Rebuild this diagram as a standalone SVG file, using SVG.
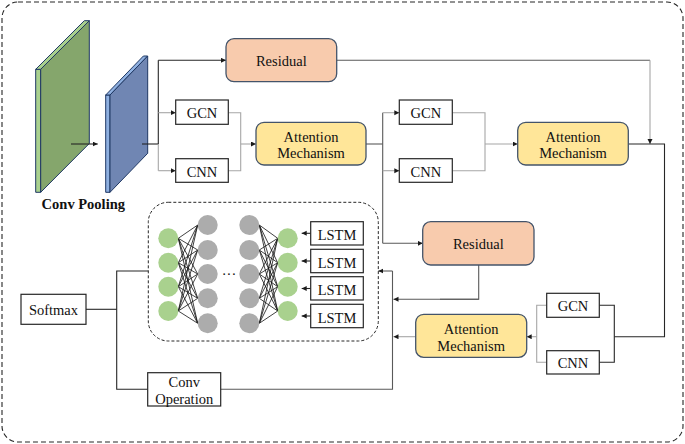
<svg xmlns="http://www.w3.org/2000/svg" width="685" height="444" viewBox="0 0 685 444">
<defs>
<marker id="arr" markerUnits="userSpaceOnUse" markerWidth="6" markerHeight="6" refX="5" refY="2.5" orient="auto">
<path d="M0,0 L5,2.5 L0,5 z" fill="#1a1a1a"/>
</marker>
</defs>
<style>
text{font-family:"Liberation Serif","Times New Roman",serif;font-size:14.5px;fill:#111;text-anchor:middle}
.bold{font-weight:bold}
.plain{fill:#fff;stroke:#262626;stroke-width:1.2}
.res{fill:#f8cbad;stroke:#44546a;stroke-width:1.3}
.att{fill:#ffe699;stroke:#44546a;stroke-width:1.3}
.dk{fill:none;stroke:#262626;stroke-width:1.1}
.md{fill:none;stroke:#595959;stroke-width:1.1}
.lt{fill:none;stroke:#a6a6a6;stroke-width:1.1}
.ar{marker-end:url(#arr)}
.gc{fill:#a9d18e}
.gy{fill:#acacac}
.nn{stroke:#111;stroke-width:0.8}
.edge{stroke:#1f3864;stroke-width:1}
</style>
<rect x="2" y="2" width="681" height="440" rx="16" fill="none" stroke="#262626" stroke-width="1.1" stroke-dasharray="5,3"/>

<g id="conv-pooling">
<polygon class="edge" points="35.7,69.3 40.7,69.3 40.7,192.3 35.7,192.3" fill="#a9d18e"/>
<polygon class="edge" points="35.7,69.3 40.7,69.3 89.3,20.7 84.3,20.7" fill="#a9d18e"/>
<polygon class="edge" points="40.7,69.3 89.3,20.7 89.3,143.5 40.7,192.3" fill="#85a66c"/>
<polygon class="edge" points="105.7,95 110,95 110,192.3 105.7,192.3" fill="#8fb0e0"/>
<polygon class="edge" points="105.7,95 110,95 147.7,56 143.4,56" fill="#8fb0e0"/>
<polygon class="edge" points="110,95 147.7,56 147.7,153.3 110,192.3" fill="#7086b3"/>
<text class="bold" x="83.3" y="208.5">Conv Pooling</text>
</g>

<g id="connectors">
<line class="dk ar" x1="71" y1="144" x2="97.7" y2="144"/>
<polyline class="dk" points="142,144 158.3,144"/>
<polyline class="dk" points="158.3,144 158.3,60.3"/>
<polyline class="lt" points="158.3,144 158.3,170.7"/>
<line class="dk ar" x1="158.3" y1="60.3" x2="226" y2="60.3"/>
<line class="lt ar" x1="158.3" y1="112.7" x2="175.7" y2="112.7"/>
<line class="lt ar" x1="158.3" y1="170.7" x2="175.7" y2="170.7"/>
<polyline class="lt" points="228.3,112.7 240.7,112.7 240.7,170.7 228.3,170.7"/>
<line class="lt ar" x1="240.7" y1="144" x2="256" y2="144"/>
<polyline class="md" points="366,144 382.7,144"/>
<polyline class="md" points="382.7,112.7 382.7,243.3"/>
<line class="lt ar" x1="382.7" y1="112.7" x2="399.3" y2="112.7"/>
<line class="lt ar" x1="382.7" y1="170.7" x2="399.3" y2="170.7"/>
<line class="md ar" x1="382.7" y1="243.3" x2="422.7" y2="243.3"/>
<polyline class="lt" points="452.3,112.7 485,112.7 485,170.7 452.3,170.7"/>
<line class="lt ar" x1="485" y1="144" x2="517.7" y2="144"/>
<polyline class="md" points="336.7,60.3 650,60.3"/>
<line class="lt ar" x1="650" y1="60.3" x2="650" y2="144"/>
<polyline class="dk" points="628.3,144 664.5,144 664.5,336.7 614.3,336.7"/>
<polyline class="dk" points="599.3,305.3 614.3,305.3 614.3,362.3 599.3,362.3"/>
<polyline class="lt" points="546.7,305.3 536.7,305.3 536.7,362.3 546.7,362.3"/>
<line class="lt ar" x1="536.7" y1="336.7" x2="526.7" y2="336.7"/>
<line class="lt ar" x1="415.7" y1="336.7" x2="393.5" y2="336.7"/>
<polyline class="md" points="478.7,265 478.7,299.3 440,299.3"/>
<line class="md ar" x1="478.7" y1="299.3" x2="393.5" y2="299.3"/>
<polyline class="md" points="220.7,389.3 392.5,389.3 392.5,271"/>
<line class="md ar" x1="392.5" y1="271" x2="378.3" y2="271"/>
<polyline class="dk" points="86,309.3 116.7,309.3"/>
<polyline class="dk" points="148.3,271 116.7,271 116.7,389.3 147.7,389.3"/>
<line class="dk ar" x1="310.7" y1="233.3" x2="301.7" y2="233.3"/>
<line class="dk ar" x1="310.7" y1="261" x2="301.7" y2="261"/>
<line class="dk ar" x1="310.7" y1="288.5" x2="301.7" y2="288.5"/>
<line class="dk ar" x1="310.7" y1="316" x2="301.7" y2="316"/>
</g>

<g id="residual-1">
<rect class="res" x="226" y="38.7" width="110.7" height="43" rx="8"/>
<text x="281.3" y="66.3">Residual</text>
</g>
<g id="gcn-1">
<rect class="plain" x="175.7" y="100" width="52.6" height="24.3"/>
<text x="202" y="118.3">GCN</text>
</g>
<g id="cnn-1">
<rect class="plain" x="175.7" y="158.7" width="52.6" height="23.6"/>
<text x="202" y="176.5">CNN</text>
</g>
<g id="attention-1">
<rect class="att" x="256" y="122.3" width="110" height="42.7" rx="8"/>
<text x="311" y="141.5">Attention</text>
<text x="311" y="158">Mechanism</text>
</g>
<g id="gcn-2">
<rect class="plain" x="399.3" y="100" width="53" height="24.3"/>
<text x="425.8" y="118.3">GCN</text>
</g>
<g id="cnn-2">
<rect class="plain" x="399.3" y="158.7" width="53" height="23.6"/>
<text x="425.8" y="176.5">CNN</text>
</g>
<g id="attention-2">
<rect class="att" x="517.7" y="122.3" width="110.6" height="42.7" rx="8"/>
<text x="573" y="141.5">Attention</text>
<text x="573" y="158">Mechanism</text>
</g>
<g id="residual-2">
<rect class="res" x="422.7" y="221.7" width="111.3" height="43.3" rx="8"/>
<text x="478.3" y="249">Residual</text>
</g>
<g id="gcn-3">
<rect class="plain" x="546.7" y="293.3" width="52.6" height="24"/>
<text x="573" y="311.2">GCN</text>
</g>
<g id="cnn-3">
<rect class="plain" x="546.7" y="350.7" width="52.6" height="23.3"/>
<text x="573" y="368.3">CNN</text>
</g>
<g id="attention-3">
<rect class="att" x="415.7" y="314.3" width="111" height="43" rx="8"/>
<text x="471.2" y="334">Attention</text>
<text x="471.2" y="351">Mechanism</text>
</g>
<g id="softmax">
<rect class="plain" x="21" y="294.3" width="65" height="30"/>
<text x="53.5" y="315">Softmax</text>
</g>
<g id="conv-operation">
<rect class="plain" x="147.7" y="372.7" width="73" height="33.3"/>
<text x="184.2" y="387">Conv</text>
<text x="184.2" y="403.5">Operation</text>
</g>

<g id="lstm-network">
<rect x="148.3" y="202.3" width="230" height="138.7" rx="20" fill="none" stroke="#262626" stroke-width="1" stroke-dasharray="3,2"/>
<g class="nn">
<line x1="178.3" y1="238.3" x2="197.7" y2="225"/><line x1="178.3" y1="238.3" x2="197.7" y2="250"/><line x1="178.3" y1="238.3" x2="197.7" y2="274"/><line x1="178.3" y1="238.3" x2="197.7" y2="298.3"/><line x1="178.3" y1="238.3" x2="197.7" y2="323.3"/>
<line x1="178.3" y1="262.7" x2="197.7" y2="225"/><line x1="178.3" y1="262.7" x2="197.7" y2="250"/><line x1="178.3" y1="262.7" x2="197.7" y2="274"/><line x1="178.3" y1="262.7" x2="197.7" y2="298.3"/><line x1="178.3" y1="262.7" x2="197.7" y2="323.3"/>
<line x1="178.3" y1="286.7" x2="197.7" y2="225"/><line x1="178.3" y1="286.7" x2="197.7" y2="250"/><line x1="178.3" y1="286.7" x2="197.7" y2="274"/><line x1="178.3" y1="286.7" x2="197.7" y2="298.3"/><line x1="178.3" y1="286.7" x2="197.7" y2="323.3"/>
<line x1="178.3" y1="311" x2="197.7" y2="225"/><line x1="178.3" y1="311" x2="197.7" y2="250"/><line x1="178.3" y1="311" x2="197.7" y2="274"/><line x1="178.3" y1="311" x2="197.7" y2="298.3"/><line x1="178.3" y1="311" x2="197.7" y2="323.3"/>
<line x1="277.7" y1="238.3" x2="259.3" y2="225"/><line x1="277.7" y1="238.3" x2="259.3" y2="250"/><line x1="277.7" y1="238.3" x2="259.3" y2="274"/><line x1="277.7" y1="238.3" x2="259.3" y2="298.3"/><line x1="277.7" y1="238.3" x2="259.3" y2="323.3"/>
<line x1="277.7" y1="262.7" x2="259.3" y2="225"/><line x1="277.7" y1="262.7" x2="259.3" y2="250"/><line x1="277.7" y1="262.7" x2="259.3" y2="274"/><line x1="277.7" y1="262.7" x2="259.3" y2="298.3"/><line x1="277.7" y1="262.7" x2="259.3" y2="323.3"/>
<line x1="277.7" y1="286.7" x2="259.3" y2="225"/><line x1="277.7" y1="286.7" x2="259.3" y2="250"/><line x1="277.7" y1="286.7" x2="259.3" y2="274"/><line x1="277.7" y1="286.7" x2="259.3" y2="298.3"/><line x1="277.7" y1="286.7" x2="259.3" y2="323.3"/>
<line x1="277.7" y1="311" x2="259.3" y2="225"/><line x1="277.7" y1="311" x2="259.3" y2="250"/><line x1="277.7" y1="311" x2="259.3" y2="274"/><line x1="277.7" y1="311" x2="259.3" y2="298.3"/><line x1="277.7" y1="311" x2="259.3" y2="323.3"/>
</g>
<circle class="gc" cx="168.3" cy="238.3" r="10"/><circle class="gc" cx="168.3" cy="262.7" r="10"/><circle class="gc" cx="168.3" cy="286.7" r="10"/><circle class="gc" cx="168.3" cy="311" r="10"/>
<circle class="gy" cx="207.7" cy="225" r="10"/><circle class="gy" cx="207.7" cy="250" r="10"/><circle class="gy" cx="207.7" cy="274" r="10"/><circle class="gy" cx="207.7" cy="298.3" r="10"/><circle class="gy" cx="207.7" cy="323.3" r="10"/>
<circle class="gy" cx="249.3" cy="225" r="10"/><circle class="gy" cx="249.3" cy="250" r="10"/><circle class="gy" cx="249.3" cy="274" r="10"/><circle class="gy" cx="249.3" cy="298.3" r="10"/><circle class="gy" cx="249.3" cy="323.3" r="10"/>
<circle class="gc" cx="287.7" cy="238.3" r="10"/><circle class="gc" cx="287.7" cy="262.7" r="10"/><circle class="gc" cx="287.7" cy="286.7" r="10"/><circle class="gc" cx="287.7" cy="311" r="10"/>
<text x="229" y="278.5">···</text>
<g id="lstm-1"><rect class="plain" x="310.7" y="221.7" width="52.6" height="23.3"/><text x="337" y="240">LSTM</text></g>
<g id="lstm-2"><rect class="plain" x="310.7" y="249.3" width="52.6" height="23.4"/><text x="337" y="267.5">LSTM</text></g>
<g id="lstm-3"><rect class="plain" x="310.7" y="276.7" width="52.6" height="23.3"/><text x="337" y="295">LSTM</text></g>
<g id="lstm-4"><rect class="plain" x="310.7" y="304.3" width="52.6" height="23.4"/><text x="337" y="322.5">LSTM</text></g>
</g>
</svg>
